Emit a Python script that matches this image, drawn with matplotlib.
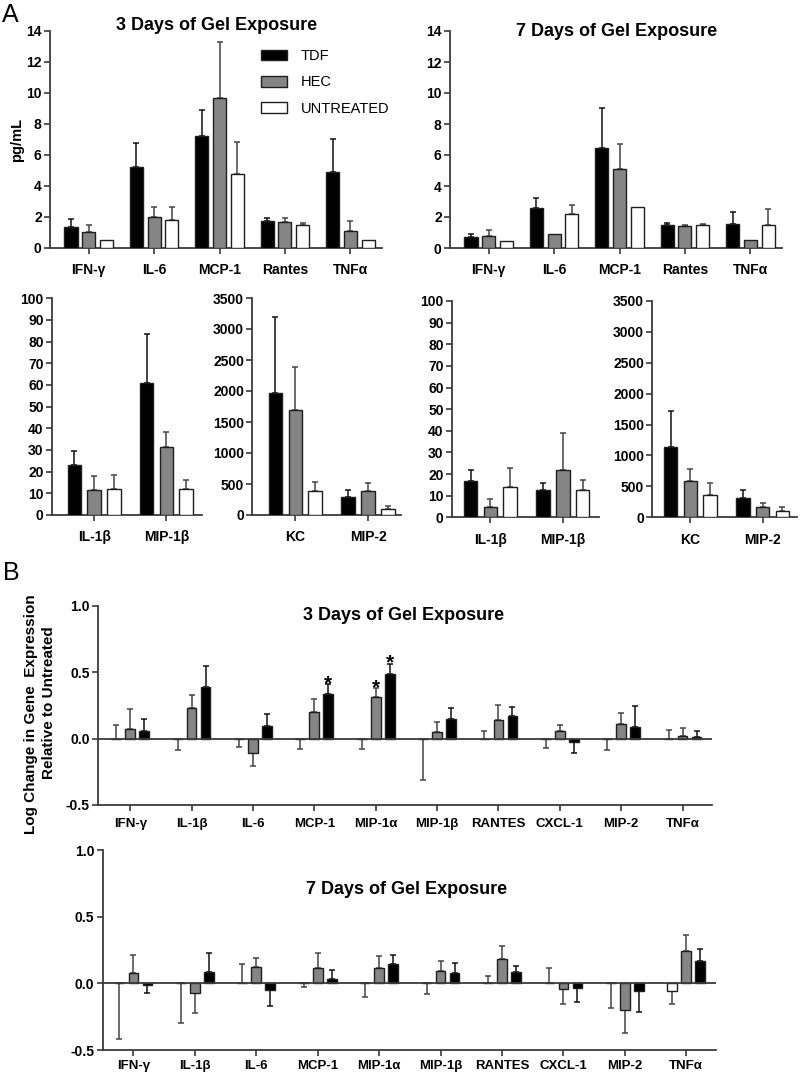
import matplotlib
matplotlib.use('Agg')
import matplotlib.pyplot as plt
import numpy as np
from matplotlib.patches import Patch

plt.rcParams['font.family'] = ['Liberation Sans', 'DejaVu Sans']
plt.rcParams['font.weight'] = 'bold'
plt.rcParams['axes.unicode_minus'] = False

# ---------------- Panel A data (pg/mL) ----------------
cyto_a = ['IFN-γ', 'IL-6', 'MCP-1', 'Rantes', 'TNFα']
d3_tdf = [1.31, 5.23, 7.20, 1.74, 4.90]
d3_tdf_err = [0.56, 1.54, 1.66, 0.20, 2.09]
d3_hec = [1.01, 1.98, 9.68, 1.66, 1.10]
d3_hec_err = [0.43, 0.64, 3.59, 0.28, 0.60]
d3_unt = [0.47, 1.78, 4.77, 1.44, 0.49]
d3_unt_err = [0.0, 0.84, 2.07, 0.13, 0.0]

d7_tdf = [0.69, 2.58, 6.45, 1.50, 1.57]
d7_tdf_err = [0.21, 0.67, 2.60, 0.11, 0.73]
d7_hec = [0.80, 0.90, 5.08, 1.40, 0.52]
d7_hec_err = [0.34, 0.0, 1.63, 0.10, 0.0]
d7_unt = [0.47, 2.22, 2.67, 1.46, 1.50]
d7_unt_err = [0.0, 0.58, 0.0, 0.11, 0.99]

cyto_b1 = ['IL-1β', 'MIP-1β']
d3_b1_tdf = [23.1, 61.1]
d3_b1_tdf_err = [6.4, 22.4]
d3_b1_hec = [11.4, 31.4]
d3_b1_hec_err = [6.4, 6.8]
d3_b1_unt = [11.8, 11.8]
d3_b1_unt_err = [6.7, 4.2]
d7_b1_tdf = [16.8, 12.5]
d7_b1_tdf_err = [5.2, 3.2]
d7_b1_hec = [4.6, 22.0]
d7_b1_hec_err = [3.9, 16.9]
d7_b1_unt = [13.8, 12.5]
d7_b1_unt_err = [9.1, 4.6]

cyto_b2 = ['KC', 'MIP-2']
d3_b2_tdf = [1962, 290]
d3_b2_tdf_err = [1230, 119]
d3_b2_hec = [1694, 387]
d3_b2_hec_err = [688, 129]
d3_b2_unt = [382, 102]
d3_b2_unt_err = [156, 38]
d7_b2_tdf = [1136, 318]
d7_b2_tdf_err = [582, 118]
d7_b2_hec = [587, 172]
d7_b2_hec_err = [199, 65]
d7_b2_unt = [361, 102]
d7_b2_unt_err = [199, 65]

# ---------------- Panel B data (log change) ----------------
# signed errors: positive = bar drawn upward, negative = downward
genes = ['IFN-γ', 'IL-1β', 'IL-6', 'MCP-1', 'MIP-1α', 'MIP-1β', 'RANTES', 'CXCL-1', 'MIP-2', 'TNFα']
g3_unt = [0, 0, 0, 0, 0, 0, 0, 0, 0, 0]
g3_unt_err = [0.105, -0.085, -0.065, -0.08, -0.08, -0.313, 0.055, -0.07, -0.088, 0.068]
g3_hec = [0.07, 0.23, -0.105, 0.198, 0.313, 0.05, 0.138, 0.055, 0.108, 0.023]
g3_hec_err = [0.153, 0.096, -0.103, 0.102, 0.065, 0.075, 0.115, 0.05, 0.087, 0.06]
g3_tdf = [0.058, 0.39, 0.095, 0.333, 0.484, 0.15, 0.173, -0.028, 0.085, 0.013]
g3_tdf_err = [0.088, 0.156, 0.093, 0.077, 0.077, 0.083, 0.063, -0.077, 0.161, 0.047]
g3_hec_sig = [False, False, False, False, True, False, False, False, False, False]
g3_tdf_sig = [False, False, False, True, True, False, False, False, False, False]

g7_unt = [0, 0, 0, 0, 0, 0, 0, 0, 0, -0.06]
g7_unt_err = [-0.418, -0.295, 0.148, -0.028, -0.10, -0.083, 0.058, 0.118, -0.188, -0.095]
g7_hec = [0.075, -0.07, 0.12, 0.118, 0.113, 0.093, 0.185, -0.045, -0.203, 0.245]
g7_hec_err = [0.14, -0.15, 0.073, 0.112, 0.09, 0.077, 0.093, -0.108, -0.17, 0.115]
g7_tdf = [-0.01, 0.083, -0.048, 0.035, 0.143, 0.08, 0.088, -0.038, -0.055, 0.165]
g7_tdf_err = [-0.065, 0.145, -0.122, 0.063, 0.067, 0.07, 0.042, -0.105, -0.163, 0.093]

series_names = ['TDF', 'HEC', 'UNTREATED']
C_TDF, C_HEC, C_UNT = '#000000', '#858585', '#ffffff'
EDGE = '#1e1e1e'
AXC = '#3a3a3a'
TICK_FS = 10
TITLE_FS = 13

W, H = 800, 1077
fig = plt.figure(figsize=(W / 100, H / 100), dpi=100)


def pos(l, r, top, bot):
    return [l / W, 1 - bot / H, (r - l) / W, (bot - top) / H]


def style(ax, xpad=7, xfs=TICK_FS):
    for s in ['top', 'right']:
        ax.spines[s].set_visible(False)
    for s in ['left', 'bottom']:
        ax.spines[s].set_color(AXC)
        ax.spines[s].set_linewidth(1.3)
    ax.tick_params(direction='out', length=4, width=1.2, color=AXC, labelsize=TICK_FS)
    ax.tick_params(axis='y', pad=2)
    ax.tick_params(axis='x', pad=xpad, labelsize=xfs)


def draw_group(ax, cats, data, offsets, width, errcols):
    x = np.arange(len(cats))
    for (vals, errs, fc), off, ec in zip(data, offsets, errcols):
        vals = np.asarray(vals, float)
        errs = np.asarray(errs, float)
        xs = x + off
        ax.bar(xs, vals, width, color=fc, edgecolor=EDGE, linewidth=1.0, zorder=3)
        m = errs != 0
        up = np.where(errs > 0, errs, 0)
        lo = np.where(errs < 0, -errs, 0)
        if m.any():
            ax.errorbar(xs[m], vals[m], yerr=[lo[m], up[m]], fmt='none', ecolor=ec,
                        elinewidth=1.1, capsize=2.0, capthick=1.1, zorder=2)
    ax.set_xticks(x)
    ax.set_xticklabels(cats)


# ---------------- Panel A, top row ----------------
offA = [-0.272, 0.0, 0.272]
for l, r, top, bot, title_xy, title, data in [
    (50, 382, 30.7, 247.7, (217, 26), '3 Days of Gel Exposure',
     [(d3_tdf, d3_tdf_err, C_TDF), (d3_hec, d3_hec_err, C_HEC), (d3_unt, d3_unt_err, C_UNT)]),
    (450, 782, 31, 248, (617, 31), '7 Days of Gel Exposure',
     [(d7_tdf, d7_tdf_err, C_TDF), (d7_hec, d7_hec_err, C_HEC), (d7_unt, d7_unt_err, C_UNT)]),
]:
    ax = fig.add_axes(pos(l, r, top, bot))
    draw_group(ax, cyto_a, data, offA, 0.2, ['#111111', '#444444', '#444444'])
    ax.set_xlim(-0.593, 4.485)
    ax.set_ylim(0, 14)
    ax.set_yticks(np.arange(0, 15, 2))
    style(ax)
    fig.text(title_xy[0] / W, 1 - title_xy[1] / H, title, ha='center', va='center', fontsize=TITLE_FS)
    if l == 50:
        handles = [Patch(facecolor=c, edgecolor=EDGE, linewidth=1.0) for c in (C_TDF, C_HEC, C_UNT)]
        ax.legend(handles, series_names, loc='upper left', bbox_to_anchor=(261 / W, 1 - 49 / H),
                  bbox_transform=fig.transFigure, frameon=False, borderpad=0, borderaxespad=0,
                  handlelength=1.75, handleheight=0.75, handletextpad=0.95, labelspacing=0.85,
                  prop={'weight': 'normal', 'size': 10.5})

fig.text(17 / W, 1 - 140 / H, 'pg/mL', rotation=90, ha='center', va='center', fontsize=10.5)

# ---------------- Panel A, middle row ----------------
offM = [-0.273, 0.0, 0.273]
mid_specs = [
    (52, 202, 298.3, 515, cyto_b1, 100, 10, (-0.583, 1.495),
     [(d3_b1_tdf, d3_b1_tdf_err, C_TDF), (d3_b1_hec, d3_b1_hec_err, C_HEC), (d3_b1_unt, d3_b1_unt_err, C_UNT)]),
    (252.3, 401, 298, 515, cyto_b2, 3500, 500, (-0.592, 1.455),
     [(d3_b2_tdf, d3_b2_tdf_err, C_TDF), (d3_b2_hec, d3_b2_hec_err, C_HEC), (d3_b2_unt, d3_b2_unt_err, C_UNT)]),
    (452, 599, 301, 517.3, cyto_b1, 100, 10, (-0.53, 1.50),
     [(d7_b1_tdf, d7_b1_tdf_err, C_TDF), (d7_b1_hec, d7_b1_hec_err, C_HEC), (d7_b1_unt, d7_b1_unt_err, C_UNT)]),
    (652.3, 797, 300.8, 517.3, cyto_b2, 3500, 500, (-0.525, 1.474),
     [(d7_b2_tdf, d7_b2_tdf_err, C_TDF), (d7_b2_hec, d7_b2_hec_err, C_HEC), (d7_b2_unt, d7_b2_unt_err, C_UNT)]),
]
for l, r, top, bot, cats, ymax, ystep, xl, data in mid_specs:
    ax = fig.add_axes(pos(l, r, top, bot))
    draw_group(ax, cats, data, offM, 0.186, ['#111111', '#444444', '#444444'])
    ax.set_xlim(*xl)
    ax.set_ylim(0, ymax)
    ax.set_yticks(np.arange(0, ymax + 1, ystep))
    style(ax)

# ---------------- Panel B ----------------
offB = [-0.228, 0.0, 0.228]
b_specs = [
    (98, 712, 605.7, 805, (-0.525, 9.48), (404, 615), '3 Days of Gel Exposure', 5.5,
     [(g3_unt, g3_unt_err, C_UNT), (g3_hec, g3_hec_err, C_HEC), (g3_tdf, g3_tdf_err, C_TDF)],
     [None, g3_hec_sig, g3_tdf_sig]),
    (102.7, 715.7, 850, 1050, (-0.5, 9.48), (407, 890), '7 Days of Gel Exposure', 3.0,
     [(g7_unt, g7_unt_err, C_UNT), (g7_hec, g7_hec_err, C_HEC), (g7_tdf, g7_tdf_err, C_TDF)],
     [None, None, None]),
]
for l, r, top, bot, xl, txy, title, xpad, data, sigs in b_specs:
    ax = fig.add_axes(pos(l, r, top, bot))
    draw_group(ax, genes, data, offB, 0.158, ['#444444', '#444444', '#111111'])
    ax.axhline(0, color=AXC, linewidth=1.3, zorder=4)
    ax.set_xlim(*xl)
    ax.set_ylim(-0.5, 1.0)
    ax.set_yticks([-0.5, 0.0, 0.5, 1.0])
    ax.set_yticklabels(['-0.5', '0.0', '0.5', '1.0'])
    style(ax, xpad=xpad, xfs=9.5)
    fig.text(txy[0] / W, 1 - txy[1] / H, title, ha='center', va='center', fontsize=TITLE_FS)
    x = np.arange(len(genes))
    for (vals, errs, _), off, sig in zip(data, offB, sigs):
        if sig is None:
            continue
        for i, s in enumerate(sig):
            if s:
                tip = vals[i] + errs[i]
                ax.annotate('*', xy=(x[i] + off, tip), xytext=(0, 0.5), textcoords='offset points',
                            ha='center', va='center', fontsize=15, fontweight='bold', zorder=5)

fig.text(31 / W, 1 - 714 / H, 'Log Change in Gene  Expression', rotation=90,
         ha='center', va='center', fontsize=11)
fig.text(49 / W, 1 - 703 / H, 'Relative to Untreated', rotation=90,
         ha='center', va='center', fontsize=11)

fig.text(2 / W, 1 - 3 / H, 'A', ha='left', va='top', fontsize=18, fontweight='normal')
fig.text(3 / W, 1 - 561 / H, 'B', ha='left', va='top', fontsize=18, fontweight='normal')

fig.savefig('out.png', dpi=100)
